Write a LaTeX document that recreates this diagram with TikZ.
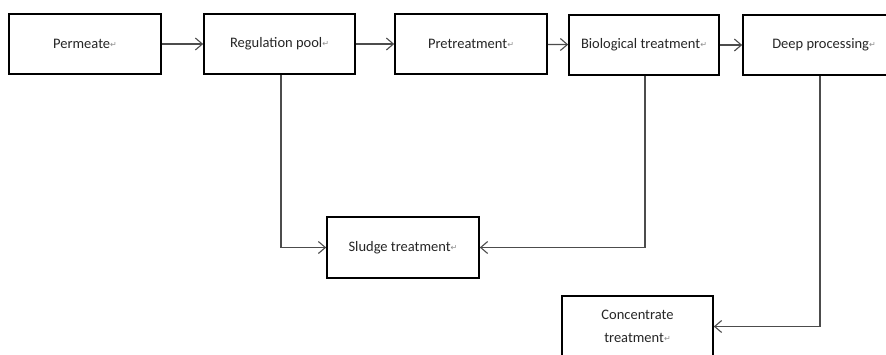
\documentclass[tikz,border=0pt]{standalone}
\usepackage{fontspec}
\setmainfont{Carlito}
\newfontfamily\symfont{DejaVu Sans}
\usetikzlibrary{arrows.meta}
\newcommand\rmark{\raisebox{1pt}{\fontsize{8}{8}\selectfont\color{black!45}\symfont ↵}}
\tikzset{
  box/.style={draw=black, line width=1.6pt, minimum height=60pt, inner sep=0pt, text=black!85,
    font=\fontsize{14.5}{23}\selectfont, align=center},
  conn/.style={draw=black!70, line width=1.2pt, -{Straight Barb[length=7pt,width=12pt,line width=1.1pt]}}
}
\begin{document}
\begin{tikzpicture}[x=1pt,y=-1pt]
\useasboundingbox (0,0) rectangle (886,354);
\fill[white] (0,0) rectangle (886,354);
\clip (0,0) rectangle (886,354);
\node[box, minimum width=152pt] (perm) at (85,44) {Permeate\rmark};
\node[box, minimum width=151pt] (reg) at (279.5,44) {Regulation pool\rmark};
\node[box, minimum width=152pt] (pre) at (471,44) {Pretreatment\rmark};
\node[box, minimum width=150pt] (bio) at (644,45) {Biological treatment\rmark};
\node[box, minimum width=162pt] (deep) at (824,45) {Deep processing\rmark};
\node[box, minimum width=152pt, minimum height=61pt] (sludge) at (403,247.5) {Sludge treatment\rmark};
\node[box, minimum width=151pt, minimum height=61pt] (conc) at (637.5,326.5) {Concentrate\\treatment\rmark};
\draw[conn] (perm) -- (reg);
\draw[conn] (reg) -- (pre);
\draw[conn] (pre) -- (bio);
\draw[conn] (bio) -- (deep);
\draw[conn] ([xshift=1.5pt]reg.south) |- (sludge.west);
\draw[conn] ([xshift=1pt]bio.south) |- (sludge.east);
\draw[conn] ([xshift=-4pt]deep.south) |- (conc.east);
\end{tikzpicture}
\end{document}
